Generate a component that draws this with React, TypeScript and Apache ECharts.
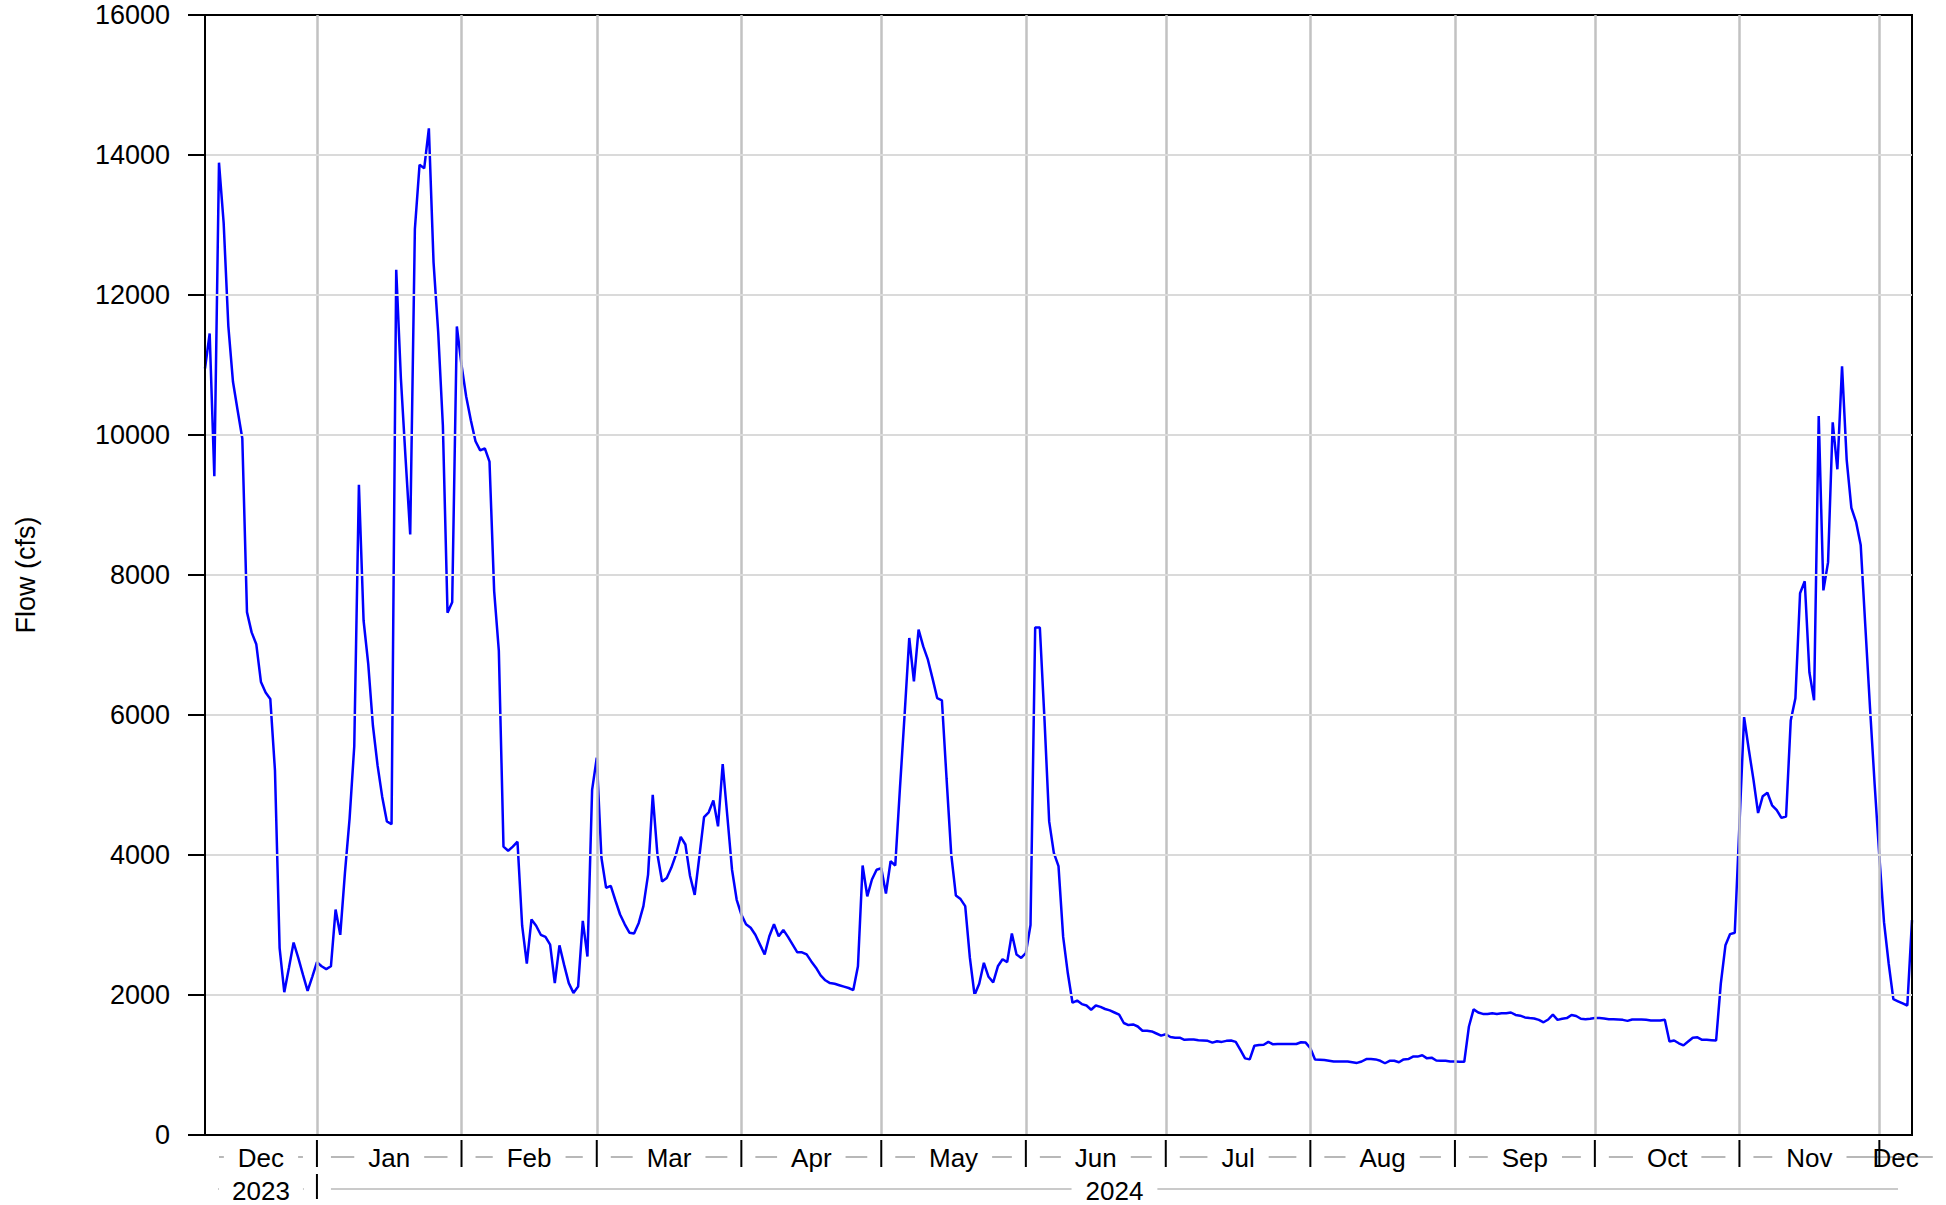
import React, { useEffect, useRef } from "react";
import * as echarts from "echarts";

// ---- data: daily mean flow (cfs), 2023-12-08 .. 2024-12-08 ----
const START_DATE = [2023, 11, 8]; // year, monthIndex, day
const END_DATE = [2024, 11, 8];

const flowDec2023 = [10950, 11450, 9410, 13890, 13030, 11560, 10760, 10350, 9950, 7470, 7180, 7010, 6470, 6320, 6230, 5210, 2670, 2040, 2390, 2750, 2530, 2290, 2060, 2260];
const flowJan2024 = [2470, 2410, 2370, 2410, 3220, 2860, 3740, 4520, 5550, 9290, 7350, 6730, 5850, 5280, 4830, 4480, 4440, 12360, 10810, 9670, 8580, 12940, 13860, 13810, 14380, 12470, 11470, 10140, 7460, 7610, 11550];
const flowFeb2024 = [11000, 10550, 10210, 9910, 9780, 9810, 9620, 7770, 6920, 4120, 4060, 4120, 4190, 2990, 2450, 3080, 2990, 2860, 2830, 2720, 2170, 2710, 2430, 2170, 2030, 2120, 3060, 2550, 4930];
const flowMar2024 = [5390, 3960, 3530, 3560, 3350, 3150, 3010, 2890, 2880, 3030, 3270, 3720, 4860, 4010, 3620, 3670, 3820, 4010, 4260, 4150, 3700, 3430, 3980, 4540, 4610, 4780, 4410, 5300, 4550, 3790, 3360];
const flowApr2024 = [3150, 3010, 2960, 2860, 2720, 2580, 2840, 3010, 2840, 2930, 2830, 2720, 2610, 2610, 2580, 2480, 2390, 2280, 2210, 2170, 2160, 2140, 2120, 2100, 2070, 2410, 3850, 3410, 3650, 3790];
const flowMay2024 = [3810, 3450, 3910, 3850, 4950, 6000, 7100, 6480, 7220, 6980, 6790, 6520, 6240, 6210, 5090, 4010, 3420, 3370, 3270, 2530, 2000, 2160, 2460, 2260, 2180, 2410, 2510, 2470, 2880, 2580, 2530];
const flowJun2024 = [2600, 3000, 7250, 7250, 5930, 4480, 4030, 3840, 2830, 2310, 1890, 1920, 1870, 1850, 1790, 1850, 1830, 1800, 1780, 1750, 1720, 1600, 1570, 1580, 1550, 1490, 1490, 1480, 1450, 1420];
const flowJul2024 = [1440, 1400, 1390, 1390, 1360, 1365, 1365, 1355, 1350, 1345, 1320, 1340, 1330, 1345, 1350, 1330, 1215, 1095, 1080, 1275, 1285, 1290, 1330, 1295, 1300, 1300, 1300, 1300, 1300, 1325, 1320];
const flowAug2024 = [1240, 1080, 1075, 1070, 1060, 1050, 1050, 1050, 1050, 1040, 1030, 1050, 1085, 1085, 1080, 1060, 1025, 1060, 1060, 1040, 1080, 1085, 1120, 1120, 1140, 1095, 1105, 1065, 1060, 1060, 1050];
const flowSep2024 = [1050, 1045, 1045, 1550, 1795, 1750, 1730, 1730, 1740, 1730, 1740, 1740, 1750, 1715, 1705, 1680, 1670, 1665, 1645, 1610, 1650, 1720, 1645, 1660, 1670, 1715, 1700, 1660, 1655, 1660];
const flowOct2024 = [1670, 1670, 1665, 1655, 1655, 1650, 1645, 1630, 1650, 1650, 1650, 1645, 1635, 1635, 1635, 1645, 1335, 1350, 1310, 1280, 1335, 1390, 1395, 1360, 1360, 1355, 1350, 2160, 2710, 2870, 2890];
const flowNov2024 = [4430, 5970, 5510, 5080, 4600, 4840, 4890, 4710, 4640, 4530, 4550, 5920, 6240, 7740, 7910, 6610, 6210, 10270, 7780, 8180, 10180, 9510, 10980, 9640, 8960, 8760, 8430, 7260, 6100, 5000];
const flowDec2024 = [3980, 3040, 2450, 1940, 1910, 1880, 1850, 3070];

const monthlyFlows = [flowDec2023, flowJan2024, flowFeb2024, flowMar2024, flowApr2024, flowMay2024, flowJun2024, flowJul2024, flowAug2024, flowSep2024, flowOct2024, flowNov2024, flowDec2024];

// month bands on the x axis
const monthLabels = ["Dec", "Jan", "Feb", "Mar", "Apr", "May", "Jun", "Jul", "Aug", "Sep", "Oct", "Nov", "Dec"];
const monthBoundaries = [
  [2023, 11, 8], [2024, 0, 1], [2024, 1, 1], [2024, 2, 1], [2024, 3, 1], [2024, 4, 1], [2024, 5, 1],
  [2024, 6, 1], [2024, 7, 1], [2024, 8, 1], [2024, 9, 1], [2024, 10, 1], [2024, 11, 1], [2024, 11, 8],
];
const yearLabels = ["2023", "2024"];
const yearBoundaries = [[2023, 11, 8], [2024, 0, 1], [2024, 11, 8]];

const Y_MIN = 0;
const Y_MAX = 16000;
const Y_STEP = 2000;

const FONT = "'Liberation Sans', Arial, Helvetica, sans-serif";
const DAY = 86400000;
const toTime = (d: number[]) => Date.UTC(d[0], d[1], d[2]);

export default function App() {
  const ref = useRef<HTMLDivElement>(null);

  useEffect(() => {
    const el = ref.current;
    if (!el) return;
    const chart = echarts.init(el, null, { renderer: "svg" });

    const t0 = toTime(START_DATE);
    const flows = monthlyFlows.flat();
    const seriesData = flows.map((v, i) => [t0 + i * DAY, v]);
    const monthTimes = monthBoundaries.map(toTime);
    const yearTimes = yearBoundaries.map(toTime);
    const innerMonthTimes = monthTimes.slice(1, -1);

    chart.setOption({
      animation: false,
      backgroundColor: "#ffffff",
      grid: {
        left: 205,
        right: 34,
        top: 15,
        bottom: 70,
        show: true,
        borderColor: "#000",
        borderWidth: 2,
        backgroundColor: "transparent",
        z: 5,
      },
      xAxis: {
        type: "time",
        min: t0,
        max: toTime(END_DATE),
        z: 6,
        axisLine: { show: true, lineStyle: { color: "#000", width: 2 } },
        axisTick: { show: false },
        axisLabel: { show: false },
        splitLine: { show: false },
      },
      yAxis: {
        type: "value",
        min: Y_MIN,
        max: Y_MAX,
        interval: Y_STEP,
        z: 6,
        name: "Flow (cfs)",
        nameLocation: "middle",
        nameRotate: 90,
        nameGap: 166,
        nameTextStyle: { color: "#000", fontSize: 27, fontFamily: FONT },
        axisLine: { show: true, lineStyle: { color: "#000", width: 2 } },
        axisTick: { show: true, inside: false, length: 17, lineStyle: { color: "#000", width: 2 } },
        axisLabel: {
          color: "#000",
          fontSize: 27,
          fontFamily: FONT,
          margin: 35,
          formatter: (v: number) => String(v),
        },
        splitLine: { show: true, showMinLine: false, showMaxLine: false, lineStyle: { color: "#dadada", width: 2 } },
      },
      series: [
        {
          name: "monthGrid",
          type: "line",
          data: [],
          z: 1,
          silent: true,
          markLine: {
            silent: true,
            symbol: "none",
            label: { show: false },
            animation: false,
            lineStyle: { color: "#c2c2c2", type: "solid", width: 2.5 },
            data: innerMonthTimes.map((t) => ({ xAxis: t })),
          },
        },
        {
          name: "Flow",
          type: "line",
          data: seriesData,
          z: 3,
          showSymbol: false,
          symbol: "none",
          lineStyle: { color: "#0000ff", width: 2.5 },
          itemStyle: { color: "#0000ff" },
        },
      ],
    });

    // two-level date labels underneath the axis
    const px = (t: number) => chart.convertToPixel({ xAxisIndex: 0 }, t) as number;
    const yBase = chart.convertToPixel({ yAxisIndex: 0 }, Y_MIN) as number;
    const canvas = document.createElement("canvas");
    const ctx = canvas.getContext("2d")!;
    const LABEL_SIZE = 26;
    ctx.font = `${LABEL_SIZE}px ${FONT}`;
    const PAD = 14;
    const dashColor = "#b8b8b8";

    const elements: any[] = [];
    const hline = (x1: number, x2: number, y: number, w: number) =>
      elements.push({
        type: "line",
        silent: true,
        shape: { x1, y1: y, x2, y2: y },
        style: { stroke: dashColor, lineWidth: w },
      });
    const vline = (x: number, y1: number, y2: number) =>
      elements.push({
        type: "line",
        silent: true,
        shape: { x1: x, y1, x2: x, y2 },
        style: { stroke: "#000", lineWidth: 2 },
      });
    const band = (label: string, xa: number, xb: number, yMid: number, yDash: number, dashW: number) => {
      const cx = (xa + xb) / 2;
      const w = ctx.measureText(label).width;
      const tl = cx - w / 2;
      const tr = cx + w / 2;
      hline(xa + PAD, tl - PAD, yDash, dashW);
      hline(tr + PAD, xb - PAD, yDash, dashW);
      elements.push({
        type: "text",
        silent: true,
        x: cx,
        y: yMid,
        z: 10,
        style: {
          text: label,
          fill: "#000",
          fontSize: LABEL_SIZE,
          fontFamily: FONT,
          align: "center",
          verticalAlign: "middle",
        },
      });
    };

    const monthRowY = yBase + 23;
    const yearRowY = yBase + 56;
    monthLabels.forEach((lab, i) => {
      band(lab, px(monthTimes[i]), px(monthTimes[i + 1]), monthRowY, yBase + 22, 2);
    });
    yearLabels.forEach((lab, i) => {
      band(lab, px(yearTimes[i]), px(yearTimes[i + 1]), yearRowY, yBase + 54, 1.6);
    });
    innerMonthTimes.forEach((t) => vline(px(t), yBase + 5, yBase + 32));
    yearTimes.slice(1, -1).forEach((t) => vline(px(t), yBase + 39, yBase + 64));

    chart.setOption({ graphic: { elements } });

    return () => chart.dispose();
  }, []);

  return (
    <div
      ref={ref}
      style={{ position: "absolute", left: 0, top: 0, width: 1946, height: 1205, background: "#fff" }}
    />
  );
}
